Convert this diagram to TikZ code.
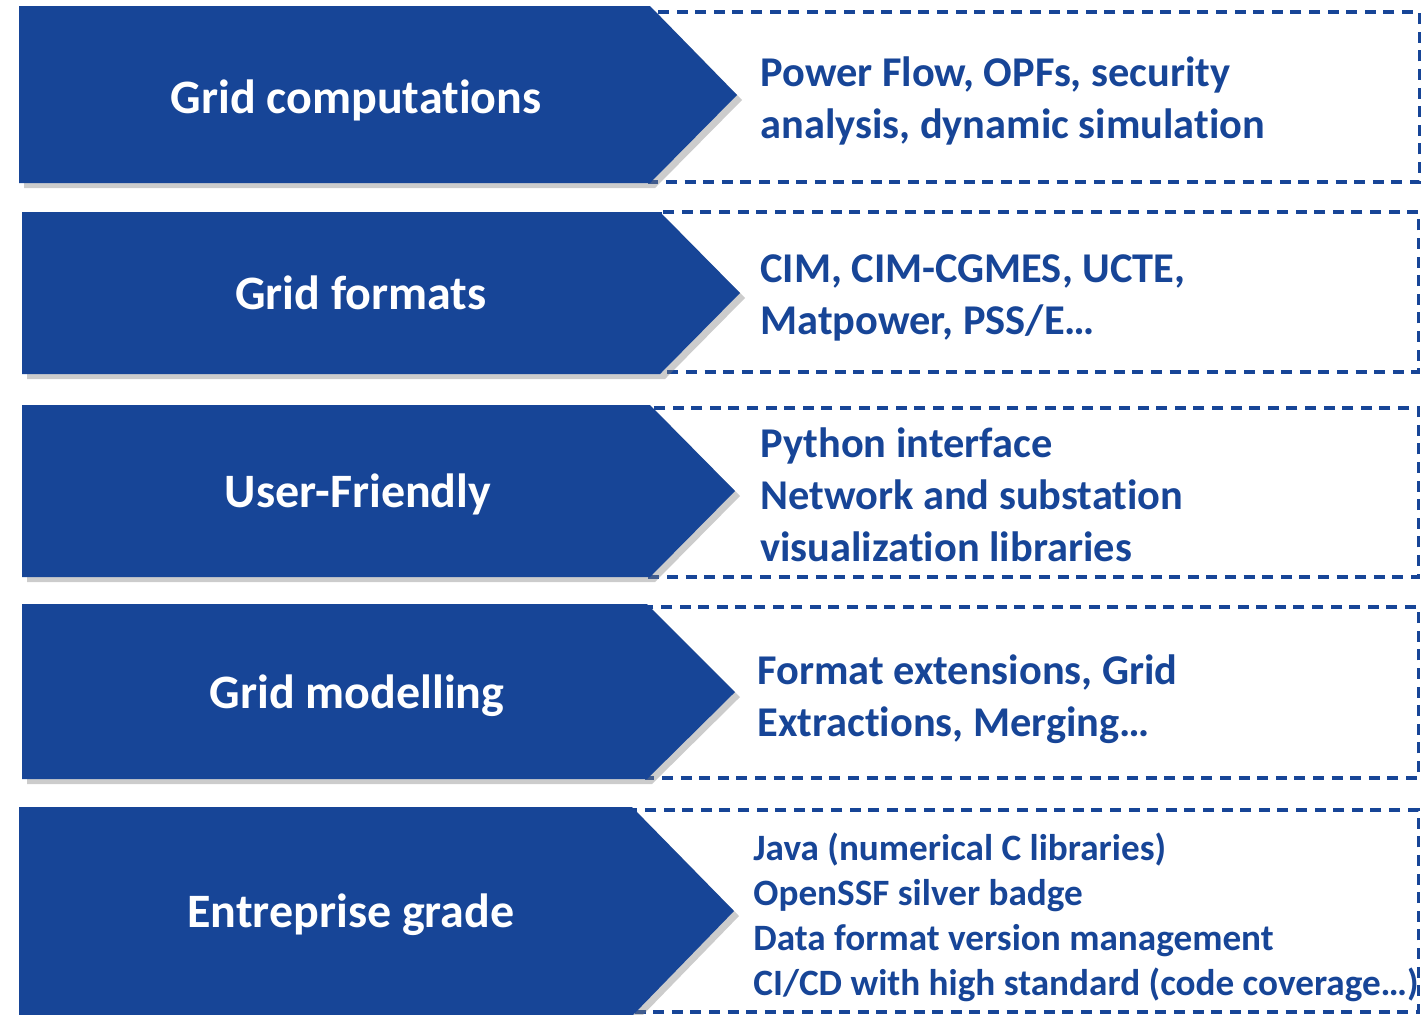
\documentclass[tikz,border=0pt]{standalone}
\usepackage{fontspec}
\setmainfont{Carlito}[Ligatures=NoCommon]
\usetikzlibrary{shadows}
\definecolor{gridblue}{RGB}{23,69,151}
\tikzstyle{chevron}=[fill=gridblue,drop shadow={shadow xshift=2.5pt,shadow yshift=-2.5pt,opacity=0.4}]
\tikzstyle{dashbox}=[draw=gridblue,line width=1.6pt,dash pattern=on 5.5pt off 3.8pt]
\tikzstyle{topic}=[text=white,font=\bfseries\fontsize{24}{29}\selectfont,anchor=base,inner sep=0pt]
\tikzstyle{detail}=[text=gridblue,font=\bfseries\fontsize{21.2}{26}\selectfont,align=left,anchor=west,inner sep=0pt]
\tikzstyle{smalldetail}=[detail,font=\bfseries\fontsize{18.6}{22.5}\selectfont]

\begin{document}
\begin{tikzpicture}[x=0.5pt,y=-0.5pt]
  \useasboundingbox (0,0) rectangle (1422,1014);
  % dashed frames
  \draw[dashbox] (650,12) rectangle (1419.5,182);
  \draw[dashbox] (660,212) rectangle (1418.5,372);
  \draw[dashbox] (650,408) rectangle (1418.5,577);
  \draw[dashbox] (647,607) rectangle (1418.5,778);
  \draw[dashbox] (632,810) rectangle (1418.5,1012);
  % arrows
  \fill[chevron] (19,6) -- (650,6) -- (737,95) -- (650,183) -- (19,183) -- cycle;
  \fill[chevron] (22,212) -- (660,212) -- (740,293) -- (660,374) -- (22,374) -- cycle;
  \fill[chevron] (22,405) -- (650,405) -- (735,491) -- (650,577) -- (22,577) -- cycle;
  \fill[chevron] (22,604) -- (647,604) -- (735,692) -- (647,779) -- (22,779) -- cycle;
  \fill[chevron] (19,807) -- (632,807) -- (734,911) -- (632,1016) -- (19,1016) -- cycle;

  \node[topic] (gc) at (356,113) {Grid computations};
  \node[topic] (gf) at (361,309) {Grid formats};
  \node[topic] (uf) at (358,507) {User-Friendly};
  \node[topic] (gm) at (357,708) {Grid modelling};
  \node[topic] (eg) at (351,927) {Entreprise grade};

  \node[detail] (gcd) at (760,101) {Power Flow, OPFs, security\\analysis, dynamic simulation};
  \node[detail] (gfd) at (760,298) {CIM, CIM-CGMES, UCTE,\\Matpower, PSS/E…};
  \node[detail] (ufd) at (760,495) {Python interface\\Network and substation\\visualization libraries};
  \node[detail] (gmd) at (757,699) {Format extensions, Grid\\Extractions, Merging…};
  \node[smalldetail] (egd) at (753,917) {Java (numerical C libraries)\\OpenSSF silver badge\\Data format version management\\CI/CD with high standard (code coverage…)};
\end{tikzpicture}
\end{document}
